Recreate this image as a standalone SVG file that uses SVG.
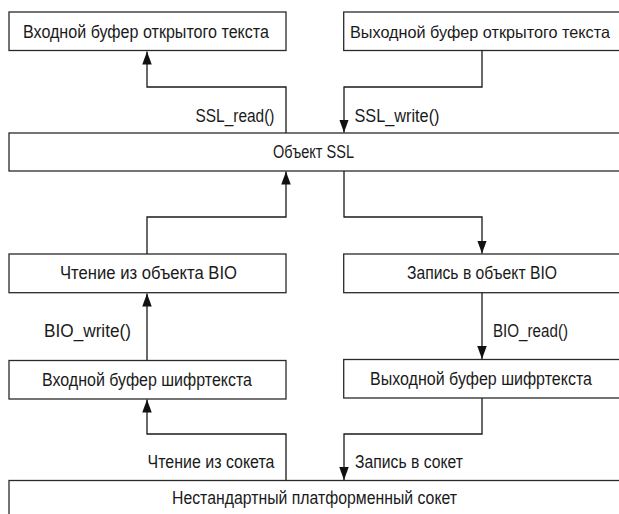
<svg xmlns="http://www.w3.org/2000/svg" width="619" height="514" viewBox="0 0 619 514">
<defs>
<style>
.box{fill:#fff;stroke:#2a2a2a;stroke-width:1.3}
.t{font-family:"Liberation Sans",Arial,sans-serif;font-size:17.5px;fill:#1a1a1a}
.c{text-anchor:middle}
.e{text-anchor:end}
.ln{fill:none;stroke:#1a1a1a;stroke-width:1.3}
</style>
<marker id="ah" markerUnits="userSpaceOnUse" markerWidth="14" markerHeight="10" refX="13" refY="4.75" orient="auto">
<path d="M0,0 L13,4.75 L0,9.5 z" fill="#111"/>
</marker>
</defs>
<rect width="619" height="514" fill="#fff"/>
<g id="in-plain">
<rect class="box" x="9" y="12" width="277" height="38.5"/>
<text class="t c" x="146" y="37.7" textLength="246" lengthAdjust="spacingAndGlyphs">Входной буфер открытого текста</text>
</g>
<g id="out-plain">
<rect class="box" x="343.7" y="12" width="290" height="38.5"/>
<text class="t" x="350" y="37.7" style="font-size:16.5px" textLength="260" lengthAdjust="spacingAndGlyphs">Выходной буфер открытого текста</text>
</g>
<g id="ssl">
<rect class="box" x="9" y="133" width="625" height="38"/>
<text class="t c" x="313.5" y="157.5" textLength="81" lengthAdjust="spacingAndGlyphs">Объект SSL</text>
</g>
<g id="read-bio">
<rect class="box" x="9" y="254" width="277" height="38.7"/>
<text class="t c" x="148.5" y="279.3" textLength="177" lengthAdjust="spacingAndGlyphs">Чтение из объекта BIO</text>
</g>
<g id="write-bio">
<rect class="box" x="343.7" y="254" width="290" height="38.7"/>
<text class="t c" x="482" y="279.3" textLength="150" lengthAdjust="spacingAndGlyphs">Запись в объект BIO</text>
</g>
<g id="in-cipher">
<rect class="box" x="9" y="360.5" width="277" height="38.5"/>
<text class="t c" x="147" y="385.8" textLength="210" lengthAdjust="spacingAndGlyphs">Входной буфер шифртекста</text>
</g>
<g id="out-cipher">
<rect class="box" x="343.7" y="359.5" width="290" height="38.5"/>
<text class="t c" x="481" y="384.8" textLength="222" lengthAdjust="spacingAndGlyphs">Выходной буфер шифртекста</text>
</g>
<g id="socket">
<rect class="box" x="9" y="480.5" width="625" height="45"/>
<text class="t c" x="314.5" y="504" textLength="285" lengthAdjust="spacingAndGlyphs">Нестандартный платформенный сокет</text>
</g>
<g id="connectors">
<path class="ln" d="M286,133 V87 H147 V51.5" marker-end="url(#ah)"/>
<path class="ln" d="M482,50.5 V87 H344 V132.5" marker-end="url(#ah)"/>
<path class="ln" d="M147,254 V217 H286 V171.5" marker-end="url(#ah)"/>
<path class="ln" d="M344,171 V217 H482 V253.5" marker-end="url(#ah)"/>
<path class="ln" d="M147,360.5 V293.5" marker-end="url(#ah)"/>
<path class="ln" d="M482,292.7 V359" marker-end="url(#ah)"/>
<path class="ln" d="M286,480.5 V434 H147 V399.5" marker-end="url(#ah)"/>
<path class="ln" d="M482,398 V434 H344 V480" marker-end="url(#ah)"/>
<text class="t e" x="274.5" y="122" textLength="79" lengthAdjust="spacingAndGlyphs">SSL_read()</text>
<text class="t" x="354.5" y="122" textLength="85" lengthAdjust="spacingAndGlyphs">SSL_write()</text>
<text class="t e" x="131" y="337" textLength="87" lengthAdjust="spacingAndGlyphs">BIO_write()</text>
<text class="t" x="493" y="337" textLength="75" lengthAdjust="spacingAndGlyphs">BIO_read()</text>
<text class="t e" x="274.5" y="468" textLength="127" lengthAdjust="spacingAndGlyphs">Чтение из сокета</text>
<text class="t" x="355" y="468" textLength="108" lengthAdjust="spacingAndGlyphs">Запись в сокет</text>
</g>
</svg>
